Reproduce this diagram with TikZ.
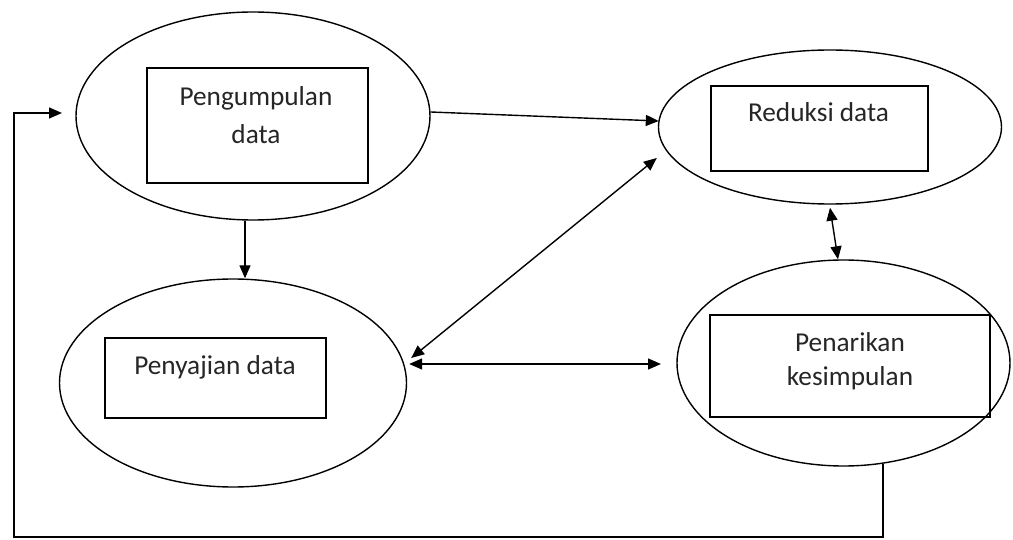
\documentclass[tikz,border=0pt]{standalone}
\usepackage{fontspec}
\setmainfont{Carlito}
\usetikzlibrary{arrows.meta,calc,shapes.geometric}
\begin{document}
\begin{tikzpicture}[x=1pt,y=-1pt,
  oval/.style={draw,ellipse,inner sep=0pt,line width=1.4pt},
  box/.style={draw,rectangle,inner sep=0pt,line width=1.4pt},
  lbl/.style={font=\fontsize{27.3}{38}\selectfont,align=center,anchor=base,inner sep=0pt,text=black!85},
  arr/.style={line width=1.4pt,-{Triangle[length=13pt,width=11pt]}},
  darr/.style={line width=1.4pt,{Triangle[length=13pt,width=11pt]}-{Triangle[length=13pt,width=11pt]}}]
\useasboundingbox (0,0) rectangle (1013,540);
% ellipses
\node[oval,minimum width=354pt,minimum height=208pt] (e1) at (253,116) {};
\node[oval,minimum width=343pt,minimum height=154pt] (e2) at (830,127) {};
\node[oval,minimum width=347pt,minimum height=208pt] (e3) at (233,383) {};
\node[oval,minimum width=333pt,minimum height=206pt] (e4) at (843.5,363) {};
% boxes
\node[box,minimum width=221pt,minimum height=115pt] (b1) at (257.5,125.5) {};
\node[box,minimum width=217pt,minimum height=85pt] (b2) at (819.5,128.5) {};
\node[box,minimum width=221pt,minimum height=80pt] (b3) at (215.5,378) {};
\node[box,minimum width=280pt,minimum height=102pt] (b4) at (850,366) {};
% labels (anchor=base is the last line's baseline)
\node[lbl] (t1) at (256,144) {Pengumpulan\\data};
\node[lbl] (t2) at (818.5,122) {Reduksi data};
\node[lbl] (t3) at (215,374) {Penyajian data};
\node[lbl,font=\fontsize{27.3}{34}\selectfont] (t4) at (850,385) {Penarikan\\kesimpulan};
% free ends
\coordinate (h) at (661,364);
\coordinate (loopend) at (62,113);
% connectors
\draw[arr] ($(e1.east)+(0,-4)$) -- ($(e2.west)+(1,-6)$);
\draw[arr] ($(e1.south)+(-8,0)$) -- ($(e3.north)+(12,0)$);
\draw[darr] ($(e2.south)+(0,3)$) -- ($(e4.north)+(-5.5,0)$);
\draw[darr] ($(e3.east)+(4,-25)$) -- ($(e2.west)+(-1,31)$);
\draw[darr] ($(e3.east)+(2,-19)$) -- (h);
\draw[arr] ($(e4.south)+(39.5,-3)$) |- (14,537) |- (loopend);
\end{tikzpicture}
\end{document}
